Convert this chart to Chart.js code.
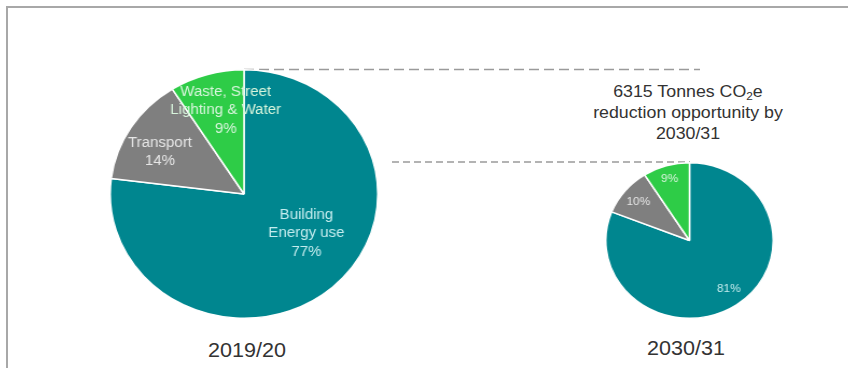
<!DOCTYPE html>
<html>
<head>
<meta charset="utf-8">
<script src="https://cdn.jsdelivr.net/npm/chart.js@4.4.0/dist/chart.umd.min.js"></script>
<style>
body { margin: 0; background: #fff; font-family: "Liberation Sans", Arial, sans-serif; }
#wrap { position: relative; width: 848px; height: 368px; overflow: hidden; background: #fff; }
#frame { position: absolute; left: 6px; top: 6px; width: 860px; height: 380px; border-top: 2px solid #a8a8a8; border-left: 2px solid #a8a8a8; }
.pie { position: absolute; transform: scaleX(1.077); transform-origin: 50% 50%; }
#big { left: 119px; top: 69px; width: 250px; height: 250px; }
#small { left: 611px; top: 162px; width: 157px; height: 157px; }
.txt { position: absolute; color: #333; text-align: center; white-space: nowrap; transform: translateX(-50%) scaleX(1.077); }
#t1 { left: 247px; top: 339px; font-size: 20px; }
#t2 { left: 686px; top: 337px; font-size: 20px; }
#note { left: 688px; top: 81px; font-size: 16.5px; line-height: 21px; }
#note sub { font-size: 11px; vertical-align: -3px; line-height: 0; }
svg { position: absolute; left: 0; top: 0; }
</style>
</head>
<body>
<div id="wrap">
  <div id="frame"></div>
  <svg width="848" height="368">
    <line x1="244" y1="69.5" x2="700" y2="69.5" stroke="#9a9a9a" stroke-width="1.5" stroke-dasharray="10 5"/>
    <line x1="392" y1="162" x2="690" y2="162" stroke="#9a9a9a" stroke-width="1.5" stroke-dasharray="7 4"/>
  </svg>
  <div class="pie" id="big"><canvas id="c1"></canvas></div>
  <div class="pie" id="small"><canvas id="c2"></canvas></div>
  <div class="txt" id="note">6315 Tonnes CO<sub>2</sub>e<br>reduction opportunity by<br>2030/31</div>
  <div class="txt" id="t1">2019/20</div>
  <div class="txt" id="t2">2030/31</div>
</div>
<script>
// data
var categories = ['Building Energy use', 'Transport', 'Waste, Street Lighting & Water'];
var values2019 = [77, 14, 9];
var values2030 = [81, 10, 9];
var bigNames = [['Building', 'Energy use'], ['Transport'], ['Waste, Street', 'Lighting & Water']];

var sliceColors = ['#00868f', '#7f7f7f', '#2ecc47'];
var labelColors = ['#c4ecee', '#e6e6e6', '#d8f5dc'];

// where each slice's label sits inside its chart (px, before stretch)
var bigLabelPos = [[183, 146], [47, 74], [108, 23]];
var smallLabelPos = [[115, 127], [31, 40], [60, 17]];

var sliceLabels = {
  id: 'sliceLabels',
  afterDatasetsDraw: function(chart, args, opts) {
    var ctx = chart.ctx;
    var vals = chart.data.datasets[0].data;
    ctx.save();
    ctx.textAlign = 'center';
    ctx.textBaseline = 'middle';
    ctx.font = opts.size + 'px "Liberation Sans", Arial, sans-serif';
    for (var i = 0; i < vals.length; i++) {
      var lines = (opts.names ? opts.names[i].slice() : []);
      lines.push(vals[i] + '%');
      ctx.fillStyle = labelColors[i];
      for (var j = 0; j < lines.length; j++) {
        ctx.fillText(lines[j], opts.pos[i][0], opts.pos[i][1] + j * opts.lh);
      }
    }
    ctx.restore();
  }
};

function makePie(id, values, labelOpts) {
  return new Chart(document.getElementById(id), {
    type: 'pie',
    data: {
      labels: categories,
      datasets: [{
        data: values,
        backgroundColor: sliceColors,
        borderColor: '#ffffff',
        borderWidth: 1.5
      }]
    },
    options: {
      responsive: true,
      maintainAspectRatio: false,
      animation: false,
      layout: { padding: 0 },
      plugins: {
        legend: { display: false },
        tooltip: { enabled: false },
        sliceLabels: labelOpts
      }
    },
    plugins: [sliceLabels]
  });
}

makePie('c1', values2019, { names: bigNames, pos: bigLabelPos, size: 14, lh: 18.5 });
makePie('c2', values2030, { names: null, pos: smallLabelPos, size: 11, lh: 12 });
</script>
</body>
</html>
